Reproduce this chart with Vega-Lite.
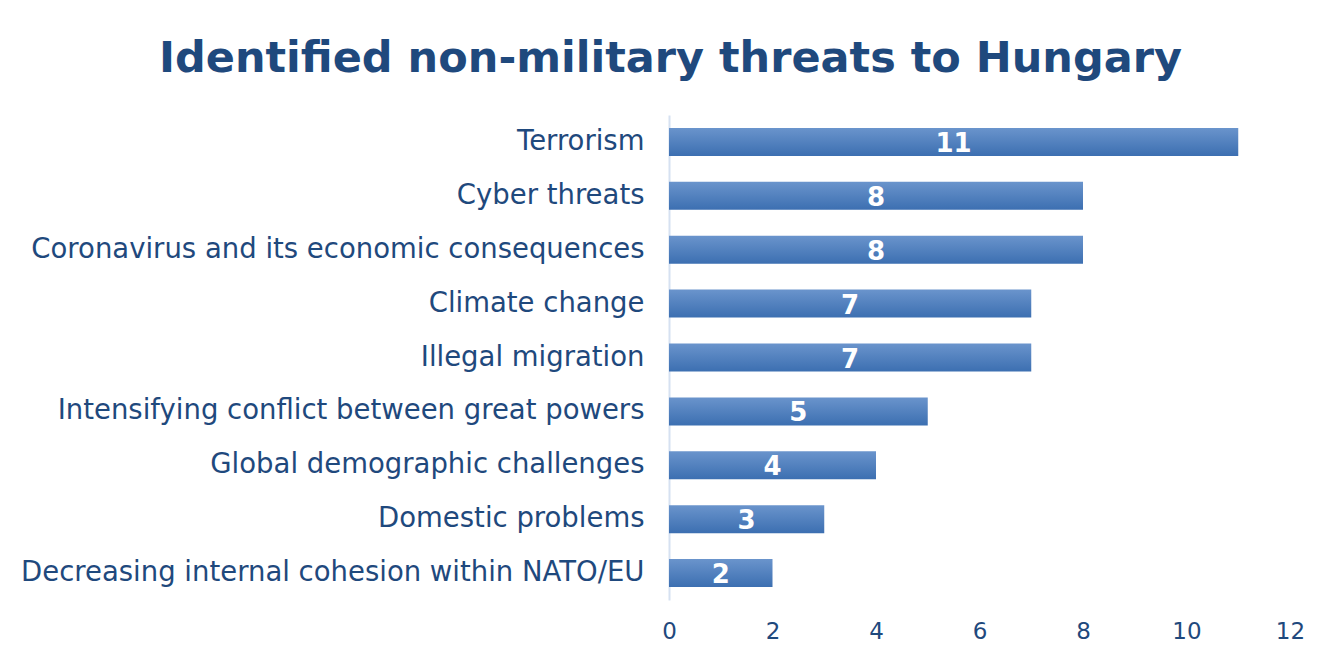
{
  "$schema": "https://vega.github.io/schema/vega-lite/v6.json",
  "width": 621,
  "height": 485,
  "autosize": "none",
  "padding": {"left": 669, "top": 115, "right": 43, "bottom": 57},
  "background": "white",
  "config": {"view": {"stroke": null}, "font": "DejaVu Sans"},
  "title": {
    "text": "Identified non-military threats to Hungary",
    "font": "DejaVu Sans",
    "fontSize": 43,
    "fontWeight": "bold",
    "color": "#1F497D",
    "anchor": "middle",
    "dx": -309,
    "offset": 34
  },
  "data": {
    "values": [
      {"threat": "Terrorism", "value": 11},
      {"threat": "Cyber threats", "value": 8},
      {"threat": "Coronavirus and its economic consequences", "value": 8},
      {"threat": "Climate change", "value": 7},
      {"threat": "Illegal migration", "value": 7},
      {"threat": "Intensifying conflict between great powers", "value": 5},
      {"threat": "Global demographic challenges", "value": 4},
      {"threat": "Domestic problems", "value": 3},
      {"threat": "Decreasing internal cohesion within NATO/EU", "value": 2}
    ]
  },
  "encoding": {
    "y": {
      "field": "threat",
      "type": "nominal",
      "sort": null,
      "scale": {"paddingInner": 0.48, "paddingOuter": 0.24},
      "axis": {
        "title": null,
        "ticks": false,
        "domainColor": "#D6E1F1",
        "domainWidth": 2,
        "labelFont": "DejaVu Sans",
        "labelFontSize": 27.5,
        "labelColor": "#1F497D",
        "labelPadding": 25,
        "labelLimit": 700
      }
    }
  },
  "layer": [
    {
      "mark": {
        "type": "bar",
        "color": {
          "gradient": "linear",
          "x1": 0, "y1": 0, "x2": 0, "y2": 1,
          "stops": [
            {"offset": 0, "color": "#6A94CC"},
            {"offset": 1, "color": "#3C6FB1"}
          ]
        }
      },
      "encoding": {
        "x": {
          "field": "value",
          "type": "quantitative",
          "scale": {"domain": [0, 12]},
          "axis": {
            "title": null,
            "values": [0, 2, 4, 6, 8, 10, 12],
            "grid": false,
            "ticks": false,
            "domain": false,
            "labelFont": "DejaVu Sans",
            "labelFontSize": 23,
            "labelColor": "#1F497D",
            "labelPadding": 20,
            "labelFlush": false
          }
        }
      }
    },
    {
      "mark": {
        "type": "text",
        "color": "white",
        "fontWeight": "bold",
        "fontSize": 26,
        "font": "DejaVu Sans",
        "baseline": "middle",
        "align": "center",
        "dy": 2
      },
      "encoding": {
        "x": {
          "field": "value",
          "type": "quantitative",
          "scale": {"domain": [0, 24]},
          "axis": null
        },
        "text": {"field": "value", "type": "quantitative"}
      }
    }
  ],
  "resolve": {"scale": {"x": "independent"}}
}
